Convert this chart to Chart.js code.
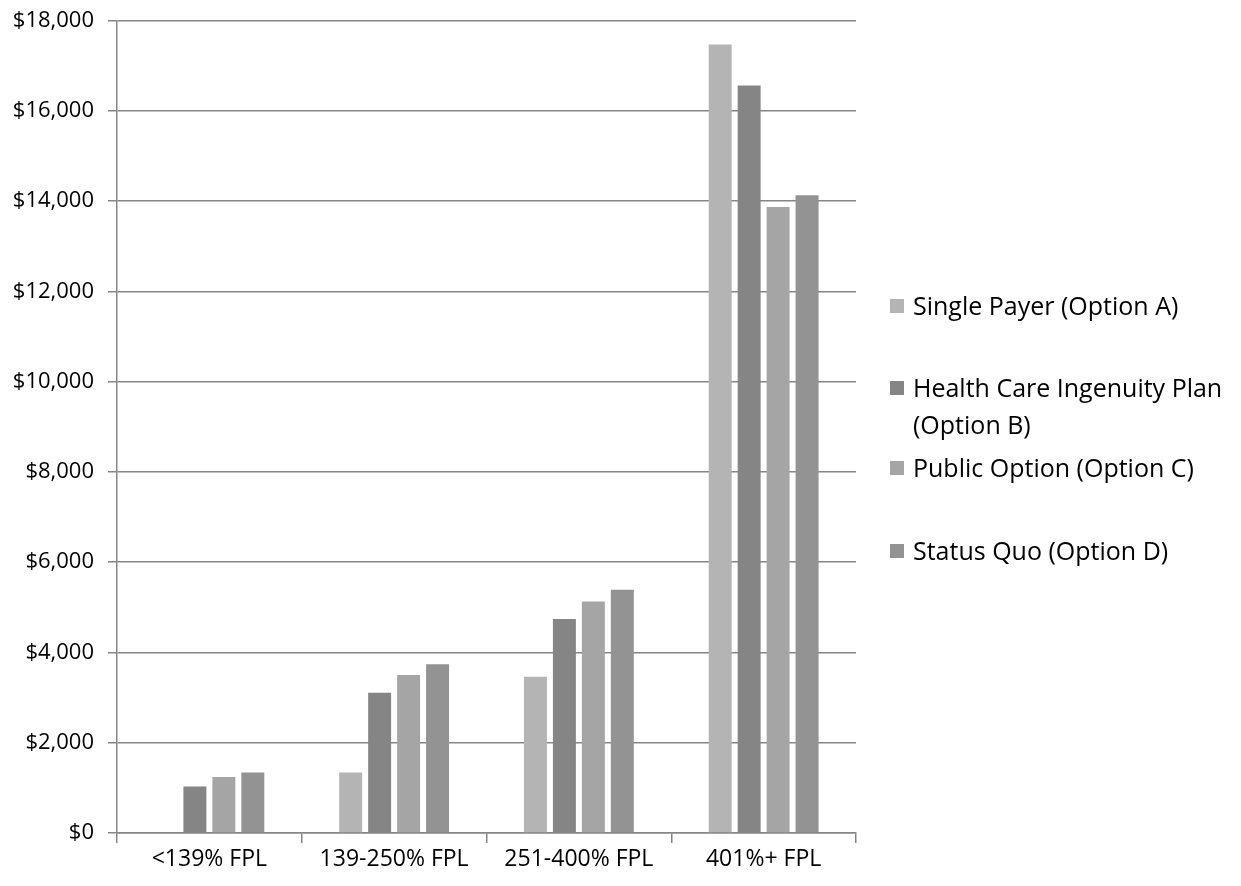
<!DOCTYPE html>
<html>
<head>
<meta charset="utf-8">
<script src="https://cdn.jsdelivr.net/npm/chart.js@4"></script>
<style>
  body { margin: 0; background: #fff; }
  #wrap { position: relative; width: 1241px; height: 886px; }
  #legend { position: absolute; left: 890px; top: 0; font-family: "Open Sans", sans-serif; font-size: 25px; color: #000; }
  .item { position: absolute; left: 0; white-space: nowrap; line-height: 37px; }
  .swatch { position: absolute; left: 0; top: 12px; width: 14px; height: 14px; }
  .text { margin-left: 23px; }
</style>
</head>
<body>
<div id="wrap">
  <canvas id="chart" width="1241" height="886"></canvas>
  <div id="legend"></div>
</div>
<script>
const categories = ['<139% FPL', '139-250% FPL', '251-400% FPL', '401%+ FPL'];

const singlePayer = [0, 1340, 3460, 17470];
const ingenuityPlan = [1030, 3110, 4740, 16560];
const publicOption = [1240, 3500, 5130, 13870];
const statusQuo = [1340, 3740, 5390, 14130];

const seriesLabels = [
  ['Single Payer (Option A)'],
  ['Health Care Ingenuity Plan', '(Option B)'],
  ['Public Option (Option C)'],
  ['Status Quo (Option D)']
];
const seriesColors = ['#b4b4b4', '#858585', '#a5a5a5', '#939393'];
const seriesData = [singlePayer, ingenuityPlan, publicOption, statusQuo];

// top of each legend entry, px
const legendTops = [287, 369, 449, 532];

// small lineHeight keeps the top tick label from pushing the plot area down
const tickFont = { family: '"Open Sans", sans-serif', size: 22, lineHeight: 0.6 };
const catFont = { family: '"Open Sans", sans-serif', size: 23 };

const chart = new Chart(document.getElementById('chart'), {
  type: 'bar',
  data: {
    labels: categories,
    datasets: seriesData.map((data, i) => ({
      label: seriesLabels[i].join(' '),
      data: data,
      backgroundColor: seriesColors[i],
      borderWidth: 0,
      categoryPercentage: 0.627,
      barPercentage: 0.793
    }))
  },
  options: {
    responsive: false,
    animation: false,
    layout: { padding: { top: 16, right: 385, left: 0, bottom: 0 } },
    plugins: {
      legend: { display: false },
      tooltip: { enabled: false }
    },
    scales: {
      x: {
        grid: { drawOnChartArea: false, color: '#868686', lineWidth: 1.5, tickLength: 10 },
        border: { color: '#868686', width: 1.5 },
        ticks: { font: catFont, color: '#000', padding: 3 },
        afterFit: scale => { scale.height = 53; }
      },
      y: {
        min: 0,
        max: 18000,
        ticks: {
          stepSize: 2000,
          font: tickFont,
          color: '#000',
          padding: 14,
          callback: v => '$' + v.toLocaleString('en-US')
        },
        grid: { color: '#868686', lineWidth: 1.5, tickLength: 9 },
        border: { color: '#868686', width: 1.5 },
        afterFit: scale => { scale.width = 117; }
      }
    }
  }
});

// legend drawn as HTML so the long entry can wrap onto two lines
const legend = document.getElementById('legend');
seriesLabels.forEach((lines, i) => {
  const item = document.createElement('div');
  item.className = 'item';
  item.style.top = legendTops[i] + 'px';
  const sw = document.createElement('div');
  sw.className = 'swatch';
  sw.style.background = seriesColors[i];
  const txt = document.createElement('div');
  txt.className = 'text';
  txt.innerHTML = lines.join('<br>');
  item.appendChild(sw);
  item.appendChild(txt);
  legend.appendChild(item);
});
</script>
</body>
</html>
